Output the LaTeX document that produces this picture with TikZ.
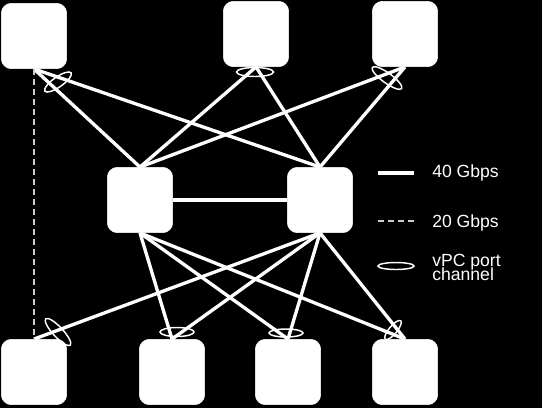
\documentclass[tikz,border=0pt]{standalone}
\usepackage{fontspec}
\setmainfont{Liberation Sans}
\usetikzlibrary{positioning}

\tikzset{
  switchbox/.style={draw=white, fill=white, rounded corners=7.5pt, minimum size=49pt, inner sep=0pt},
  link/.style={draw=white, line width=2.5pt},
  slowlink/.style={draw=white!80!black, line width=1.5pt, dash pattern=on 4.5pt off 3pt},
  portch/.style={draw=white, line width=1.1pt},
  legtext/.style={text=white, inner sep=0pt, font={\fontsize{13.2}{10.4}\selectfont\lineskiplimit=-10pt\relax}, align=left}
}

\begin{document}
\begin{tikzpicture}[x=0.75pt,y=0.75pt,yscale=-1,xscale=1]
                  %set diagram: black page of 542 x 408
                  \fill [black] (0,0) rectangle (542,408);
                  \useasboundingbox (0,0) rectangle (542,408);

                  %Shape: top switches
                  \node [switchbox] (top1) at (34,36) {};
                  \node [switchbox] (top2) at (256,34) {};
                  \node [switchbox] (top3) at (405,34) {};
                  %Shape: middle switches
                  \node [switchbox] (mid1) at (140,200) {};
                  \node [switchbox] (mid2) at (320,200) {};
                  %Shape: bottom switches
                  \node [switchbox] (bot1) at (34,372) {};
                  \node [switchbox] (bot2) at (172,372) {};
                  \node [switchbox] (bot3) at (288,372) {};
                  \node [switchbox] (bot4) at (405,372) {};

                  % Links up
                  \draw [link] (top1.south) -- (mid1.north);
                  \draw [link] (top1.south) -- (mid2.north);
                  \draw [link] (top2.south) -- (mid1.north);
                  \draw [link] (top2.south) -- (mid2.north);
                  \draw [link] (top3.south) -- (mid1.north);
                  \draw [link] (top3.south) -- (mid2.north);
                  % Peer link
                  \draw [link] (mid1.east) -- (mid2.west);
                  % Links down
                  \draw [link] (mid1.south) -- (bot2.north);
                  \draw [link] (mid1.south) -- (bot3.north);
                  \draw [link] (mid1.south) -- (bot4.north);
                  \draw [link] (mid2.south) -- (bot1.north);
                  \draw [link] (mid2.south) -- (bot2.north);
                  \draw [link] (mid2.south) -- (bot3.north);
                  \draw [link] (mid2.south) -- (bot4.north);
                  % 20 Gbps link
                  \draw [slowlink] (top1.south) -- (bot1.north);

                  %Shape: Ellipse (port channels)
                  \draw [portch, rotate around={-35:(58,82)}] (58,82) ellipse (16 and 5);
                  \draw [portch] (255,72) ellipse (18.5 and 4.5);
                  \draw [portch, rotate around={36:(387,78)}] (387,78) ellipse (18 and 5);
                  \draw [portch, rotate around={47:(58,332)}] (58,332) ellipse (18 and 5);
                  \draw [portch] (177,332) ellipse (17 and 4.5);
                  \draw [portch] (286,333) ellipse (17 and 4);
                  \draw [portch, rotate around={-50:(393,330)}] (393,330) ellipse (12 and 4);

                  % Legend
                  \coordinate (keyA1) at (378,173);
                  \coordinate (keyA2) at (414,173);
                  \draw [link] (keyA1) -- (keyA2);
                  \coordinate (keyB1) at (378,221);
                  \coordinate (keyB2) at (414,221);
                  \draw [slowlink] (keyB1) -- (keyB2);
                  \draw [portch] (396,266) ellipse (18 and 3.5);
                  % Text Node
                  \node [legtext, anchor=base west] (keyA) at (432,177) {40 Gbps};
                  % Text Node
                  \node [legtext, anchor=base west] (keyB) at (432,227) {20 Gbps};
                  % Text Node
                  \node [legtext, anchor=north west] (keyC) at (432,254) {vPC port\\channel};

\end{tikzpicture}
\end{document}
